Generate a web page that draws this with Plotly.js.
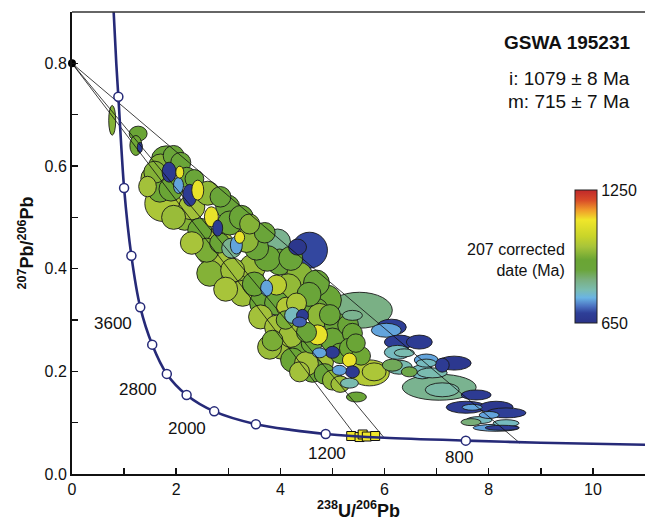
<!DOCTYPE html>
<html><head><meta charset="utf-8">
<script src="https://cdn.plot.ly/plotly-3.0.1.min.js"></script>
<style>body{margin:0;background:#fff}#chart{width:645px;height:528px}</style>
</head><body><div id="chart"></div>
<script>
// Concordia curve
const conc_x = [0.80, 0.85, 0.89, 1.00, 1.14, 1.31, 1.54, 1.82, 2.20, 2.73, 3.53, 4.20, 4.87, 6.00, 7.56, 9.00, 11.0];
const conc_y = [0.90, 0.80, 0.735, 0.557, 0.425, 0.325, 0.252, 0.195, 0.154, 0.122, 0.097, 0.086, 0.078, 0.0705, 0.065, 0.061, 0.057];
// Age markers on concordia
const age_x = [0.89, 1.00, 1.14, 1.31, 1.54, 1.82, 2.20, 2.73, 3.53, 4.87, 7.56];
const age_y = [0.735, 0.557, 0.425, 0.325, 0.252, 0.195, 0.154, 0.122, 0.097, 0.078, 0.065];
// Age labels
const label_text = ['3600', '2800', '2000', '1200', '800'];
const label_x = [0.79, 1.27, 2.21, 4.89, 7.42];
const label_y = [0.293, 0.164, 0.089, 0.039, 0.032];
// Common Pb anchor
const common_x = [0];
const common_y = [0.80];
// Discordia lines
const disc_x_end = [8.60, 5.44, 5.98];
const disc_y_end = [0.060, 0.075, 0.072];
// Concordant analyses (squares)
const sq_x = [5.36, 5.52, 5.58, 5.66, 5.82];
const sq_y = [0.074, 0.072, 0.077, 0.073, 0.074];
// Ellipses: centre, half-widths, 207-corrected date (Ma)
const ell_x = [0.772,1.270,1.226,1.303,1.814,1.590,1.864,2.088,2.069,1.552,1.743,2.044,2.261,2.203,2.414,2.605,2.165,2.676,2.989,2.452,2.797,3.027,2.835,3.155,3.065,3.410,2.586,1.686,3.946,4.559,4.330,3.544,3.467,3.985,3.084,2.644,4.368,3.927,3.736,4.693,3.276,3.659,4.119,4.234,4.693,4.425,3.218,4.885,5.517,5.383,3.927,4.310,3.620,4.368,4.751,5.077,5.383,4.713,3.927,4.502,4.023,4.406,5.000,4.751,5.000,5.326,5.326,4.789,4.617,5.134,5.383,5.709,5.800,5.000,5.326,5.460,3.793,4.234,4.368,6.130,6.034,6.284,6.667,6.245,6.379,6.801,7.107,6.284,6.149,6.724,7.337,6.800,6.475,6.916,7.050,7.107,7.759,7.567,7.682,8.142,8.333,8.008,7.816,7.660,8.333,8.142,8.257,2.750,3.347,
  1.700,1.950,1.450,1.900,2.350,2.300,1.950,2.850,2.300,3.250,3.350,3.700,3.750,4.200,2.950,3.500,4.150,4.550,3.850,4.200,4.600,5.150,4.950,5.300,4.500,4.850,5.150,5.550,4.100,5.450];
const ell_y = [0.689,0.663,0.640,0.636,0.614,0.588,0.588,0.607,0.588,0.576,0.527,0.562,0.543,0.578,0.553,0.547,0.500,0.501,0.520,0.475,0.479,0.489,0.450,0.446,0.440,0.487,0.436,0.553,0.452,0.436,0.442,0.440,0.403,0.413,0.397,0.391,0.387,0.368,0.362,0.372,0.352,0.333,0.325,0.309,0.319,0.309,0.461,0.339,0.319,0.309,0.333,0.333,0.306,0.296,0.309,0.290,0.274,0.271,0.286,0.276,0.247,0.241,0.261,0.236,0.237,0.245,0.222,0.218,0.202,0.202,0.199,0.197,0.199,0.183,0.177,0.150,0.247,0.222,0.199,0.286,0.280,0.257,0.257,0.237,0.236,0.222,0.212,0.208,0.212,0.199,0.216,0.216,0.199,0.197,0.169,0.164,0.154,0.130,0.130,0.130,0.119,0.115,0.105,0.101,0.099,0.090,0.090,0.440,0.384,
  0.600,0.620,0.560,0.555,0.575,0.520,0.500,0.540,0.450,0.500,0.455,0.470,0.420,0.420,0.360,0.370,0.365,0.350,0.260,0.270,0.255,0.235,0.310,0.290,0.215,0.195,0.175,0.230,0.300,0.255];
const ell_sx = [0.067,0.172,0.115,0.048,0.287,0.211,0.134,0.192,0.077,0.230,0.345,0.096,0.134,0.192,0.115,0.230,0.249,0.134,0.230,0.230,0.096,0.230,0.192,0.115,0.192,0.192,0.230,0.230,0.249,0.345,0.172,0.230,0.249,0.249,0.230,0.249,0.249,0.192,0.115,0.249,0.249,0.249,0.192,0.153,0.230,0.115,0.096,0.287,0.632,0.192,0.230,0.192,0.230,0.134,0.230,0.230,0.192,0.192,0.230,0.192,0.230,0.230,0.230,0.134,0.134,0.192,0.134,0.230,0.230,0.134,0.134,0.383,0.230,0.192,0.172,0.192,0.230,0.230,0.192,0.287,0.287,0.287,0.249,0.249,0.192,0.230,0.134,0.249,0.192,0.230,0.326,0.192,0.153,0.287,0.709,0.326,0.287,0.383,0.192,0.326,0.383,0.192,0.249,0.192,0.249,0.441,0.326,0.380,0.326,
  0.230,0.200,0.170,0.230,0.180,0.250,0.230,0.200,0.220,0.230,0.230,0.200,0.250,0.230,0.230,0.230,0.250,0.230,0.200,0.230,0.200,0.200,0.200,0.200,0.230,0.200,0.180,0.180,0.180,0.180];
const ell_sy = [0.029,0.0146,0.0195,0.0097,0.0253,0.0214,0.0195,0.0195,0.0117,0.0234,0.035,0.0156,0.0214,0.0195,0.0195,0.0234,0.0253,0.0195,0.0234,0.0234,0.0156,0.0234,0.0195,0.0175,0.0195,0.0195,0.0234,0.0234,0.0253,0.035,0.0156,0.0234,0.0253,0.0253,0.0234,0.0253,0.0253,0.0195,0.0156,0.0253,0.0253,0.0253,0.0195,0.0156,0.0234,0.0117,0.0117,0.0292,0.035,0.0097,0.0234,0.0195,0.0234,0.0097,0.0234,0.0234,0.0195,0.0195,0.0234,0.0195,0.0234,0.0234,0.0234,0.0097,0.0117,0.0195,0.0136,0.0234,0.0234,0.0097,0.0117,0.0253,0.0175,0.0195,0.0097,0.0097,0.0234,0.0234,0.0195,0.0156,0.0136,0.0136,0.0136,0.0136,0.0078,0.0117,0.0136,0.0136,0.0117,0.0136,0.0136,0.0078,0.0097,0.0097,0.0253,0.0136,0.0097,0.0117,0.0058,0.0117,0.0097,0.0068,0.0068,0.0068,0.0068,0.0068,0.0049,0.038,0.033,
  0.0234,0.0200,0.0200,0.0234,0.0180,0.0250,0.0234,0.0200,0.0220,0.0234,0.0234,0.0200,0.0250,0.0234,0.0234,0.0234,0.0250,0.0234,0.0200,0.0234,0.0200,0.0200,0.0200,0.0200,0.0234,0.0200,0.0160,0.0180,0.0180,0.0180];
const ell_date = [960,920,940,680,910,960,675,900,1100,980,1000,755,680,910,1100,970,960,1100,900,930,680,910,920,755,830,960,950,940,830,700,665,900,980,900,985,960,965,1020,755,900,985,920,1010,790,900,680,1100,910,840,830,900,1000,990,715,970,900,910,1100,990,900,980,920,910,755,680,930,1100,990,920,755,675,1010,1000,970,800,910,980,930,990,690,755,690,680,790,800,755,680,800,870,790,670,790,880,800,830,810,680,680,755,670,690,755,790,850,790,755,680,990,970,
  960,900,990,930,900,990,980,900,995,910,970,900,910,900,995,920,975,900,950,985,910,920,900,910,990,900,985,940,950,920];

const cmin = 650, cmax = 1250;
const colorscale = [[0,'#2b3388'],[0.075,'#2e3f98'],[0.125,'#4a70c0'],[0.19,'#6ab4e4'],[0.25,'#7abcb0'],[0.325,'#7aaf80'],[0.4,'#6aa53a'],[0.475,'#6aa534'],[0.575,'#a8c43a'],[0.65,'#c8d42a'],[0.775,'#f0e62a'],[0.85,'#f09a2a'],[0.925,'#d84a28'],[1,'#c0282a']];

function hex(h){return [parseInt(h.slice(1,3),16),parseInt(h.slice(3,5),16),parseInt(h.slice(5,7),16)];}
function colorFor(v){
  let t=(v-cmin)/(cmax-cmin); t=Math.max(0,Math.min(1,t));
  for(let i=0;i<colorscale.length-1;i++){
    const a=colorscale[i], b=colorscale[i+1];
    if(t<=b[0]){
      const f=(t-a[0])/(b[0]-a[0]); const ca=hex(a[1]), cb=hex(b[1]);
      const c=ca.map((q,k)=>Math.round(q+(cb[k]-q)*f));
      return 'rgb('+c.join(',')+')';
    }
  }
  return colorscale[colorscale.length-1][1];
}

const idx = ell_x.map((_,i)=>i).sort((a,b)=>ell_sx[b]*ell_sy[b]-ell_sx[a]*ell_sy[a]);
const shapes = idx.map(i=>({
  type:'circle', xref:'x', yref:'y', layer:'below',
  x0:ell_x[i]-ell_sx[i], x1:ell_x[i]+ell_sx[i],
  y0:ell_y[i]-ell_sy[i], y1:ell_y[i]+ell_sy[i],
  fillcolor:colorFor(ell_date[i]), line:{color:'#1a1a1a', width:0.9}
}));
shapes.push({type:'line', xref:'paper', yref:'paper', x0:0, x1:1, y0:1, y1:1, line:{color:'#333', width:1.3}});

const font = 'Liberation Sans, Arial, sans-serif';
const traces = [];
traces.push({x:ell_x, y:ell_y, mode:'markers', type:'scatter', hoverinfo:'skip', showlegend:false,
  marker:{size:1, opacity:0, color:ell_date, colorscale:colorscale, cmin:cmin, cmax:cmax, showscale:true,
    colorbar:{thickness:22, thicknessmode:'pixels', len:133, lenmode:'pixels', x:0.878, xanchor:'left',
      y:0.471, yanchor:'middle', xpad:0, ypad:0, outlinewidth:1, outlinecolor:'#222', borderwidth:0,
      tickvals:[650,1250], ticktext:['650','1250'], ticks:'', tickfont:{size:16, family:font, color:'#111'}}}});
for(let i=0;i<disc_x_end.length;i++){
  traces.push({x:[common_x[0], disc_x_end[i]], y:[common_y[0], disc_y_end[i]], mode:'lines', type:'scatter',
    line:{color:'#111', width:0.8}, hoverinfo:'skip', showlegend:false});
}
traces.push({x:sq_x, y:sq_y, mode:'markers', type:'scatter', showlegend:false, hoverinfo:'skip',
  marker:{symbol:'square', size:9, color:'#f0e62a', line:{color:'#111', width:1}}});
traces.push({x:conc_x, y:conc_y, mode:'lines', type:'scatter', line:{color:'#262a78', width:2.6, shape:'spline', smoothing:0.8},
  hoverinfo:'skip', showlegend:false});
traces.push({x:age_x, y:age_y, mode:'markers', type:'scatter', showlegend:false, hoverinfo:'skip', cliponaxis:false,
  marker:{size:9, color:'#ffffff', line:{color:'#262a78', width:1.5}}});
traces.push({x:common_x, y:common_y, mode:'markers', type:'scatter', showlegend:false, hoverinfo:'skip', cliponaxis:false,
  marker:{size:8, color:'#000'}});

const annotations = label_text.map((t,i)=>({x:label_x[i], y:label_y[i], xref:'x', yref:'y', text:t, showarrow:false,
  font:{size:17, family:font, color:'#111'}}));
annotations.push({xref:'paper', yref:'paper', x:0.977, y:0.933, xanchor:'right', yanchor:'middle', showarrow:false,
  text:'<b>GSWA 195231</b>', font:{size:19, family:font, color:'#111'}});
annotations.push({xref:'paper', yref:'paper', x:0.977, y:0.855, xanchor:'right', yanchor:'middle', showarrow:false,
  text:'i: 1079 ± 8 Ma', font:{size:19, family:font, color:'#111'}});
annotations.push({xref:'paper', yref:'paper', x:0.977, y:0.807, xanchor:'right', yanchor:'middle', showarrow:false,
  text:'m: 715 ± 7 Ma', font:{size:19, family:font, color:'#111'}});
annotations.push({xref:'paper', yref:'paper', x:0.864, y:0.463, xanchor:'right', yanchor:'middle', align:'right', showarrow:false,
  text:'207 corrected<br>date (Ma)', font:{size:16, family:font, color:'#111'}});

const layout = {
  width:645, height:528, margin:{l:72, r:0, t:12, b:54},
  paper_bgcolor:'#fff', plot_bgcolor:'#fff', showlegend:false,
  font:{family:font, color:'#111'},
  xaxis:{range:[0,11], showgrid:false, zeroline:false, showline:true, linewidth:2, linecolor:'#111',
    ticks:'inside', ticklen:6, tickwidth:1.5, tickcolor:'#111', dtick:2, tick0:0,
    minor:{dtick:1, ticks:'inside', ticklen:6, tickwidth:1.5, tickcolor:'#111', showgrid:false},
    tickfont:{size:16, family:font, color:'#111'},
    title:{text:'<b><sup>238</sup>U/<sup>206</sup>Pb</b>', font:{size:18, family:font, color:'#111'}, standoff:6}},
  yaxis:{range:[0,0.9], showgrid:false, zeroline:false, showline:true, linewidth:2, linecolor:'#111',
    ticks:'inside', ticklen:6, tickwidth:1.5, tickcolor:'#111', dtick:0.2, tick0:0, tickformat:'.1f',
    minor:{dtick:0.1, ticks:'inside', ticklen:6, tickwidth:1.5, tickcolor:'#111', showgrid:false},
    tickfont:{size:16, family:font, color:'#111'},
    title:{text:'<b><sup>207</sup>Pb/<sup>206</sup>Pb</b>', font:{size:18, family:font, color:'#111'}, standoff:6}},
  shapes:shapes, annotations:annotations
};
Plotly.newPlot('chart', traces, layout, {displayModeBar:false, staticPlot:true});
</script></body></html>
